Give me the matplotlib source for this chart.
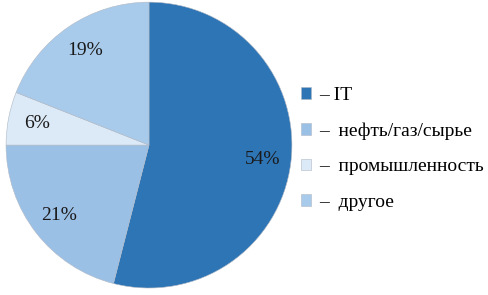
import matplotlib.pyplot as plt

plt.rcParams['font.family'] = ['Liberation Serif', 'DejaVu Serif']

labels = ['IT', 'нефть/газ/сырье', 'промышленность', 'другое']
shares = [54, 21, 6, 19]
colors = ['#2E75B6', '#9BC0E6', '#DCE9F6', '#A9CBEB']

fig = plt.figure(figsize=(4.88, 2.95), dpi=100)
ax = fig.add_axes([0.0123, 0.0237, 0.586, 0.969])

wedges, texts, autotexts = ax.pie(shares, colors=colors, startangle=90, counterclock=False,
                                  autopct='%d%%', pctdistance=0.8,
                                  wedgeprops=dict(edgecolor='#b0b8c4', linewidth=0.4),
                                  textprops=dict(fontsize=14, color='#1a1a1a'))
ax.set_xlim(-1.0, 1.0)
ax.set_ylim(-1.0, 1.0)
ax.set_aspect('equal')

leg_labels = ['– IT'] + ['–  ' + l for l in labels[1:]]
fig.legend(wedges, leg_labels, loc='center left', bbox_to_anchor=(0.58, 0.495),
           frameon=False, fontsize=14, handlelength=0.55, handleheight=0.55,
           handletextpad=0.4, labelspacing=0.95)

fig.savefig('out.png', dpi=100)
